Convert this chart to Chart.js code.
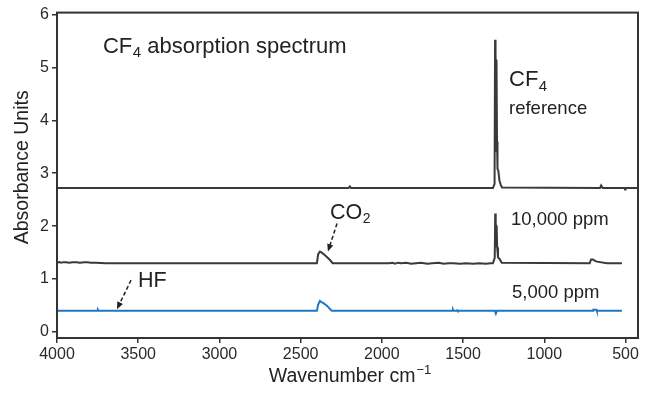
<!DOCTYPE html>
<html>
<head>
<meta charset="utf-8">
<script src="https://cdn.jsdelivr.net/npm/chart.js@4"></script>
<style>
  html, body { margin: 0; padding: 0; background: #fff; }
  #wrap { width: 651px; height: 397px; }
</style>
</head>
<body>
<div id="wrap"><canvas id="spec" width="651" height="397"></canvas></div>
<script>
// eixos
const wnTicks = [4000, 3500, 3000, 2500, 2000, 1500, 1000, 500];
const absTicks = [0, 1, 2, 3, 4, 5, 6];

// CF4 reference
const refWn  = [4000, 2205, 2197, 2190, 1316, 1306, 1303, 1300, 1297, 1294, 1291, 1288, 1283, 1276, 1268, 1260, 657, 650, 640, 506, 503, 500, 423];
const refAbs = [2.72, 2.72, 2.75, 2.72, 2.72, 2.80, 5.52, 3.40, 5.14, 5.12, 3.60, 3.08, 3.05, 2.86, 2.78, 2.73, 2.72, 2.77, 2.72, 2.72, 2.69, 2.72, 2.72];

// 10,000 ppm
const midWn  = [4000, 3985, 3975, 3960, 3945, 3925, 3905, 3880, 3860, 3830, 3815, 3790, 3760, 3700, 2400, 2392, 2381, 2370, 2350, 2319, 2303,
                1955, 1935, 1920, 1900, 1880, 1850, 1820, 1790, 1760, 1720, 1690, 1650, 1620, 1590, 1560, 1520, 1480, 1440, 1400, 1360, 1330,
                1316, 1305, 1302, 1299, 1296, 1293, 1290, 1285, 1275, 1262, 720, 712, 700, 690, 676, 614, 522];
const midAbs = [1.31, 1.32, 1.31, 1.32, 1.32, 1.31, 1.32, 1.32, 1.31, 1.32, 1.32, 1.31, 1.31, 1.30, 1.30, 1.47, 1.52, 1.50, 1.45, 1.36, 1.30,
                1.30, 1.31, 1.29, 1.31, 1.30, 1.31, 1.29, 1.30, 1.31, 1.29, 1.30, 1.31, 1.29, 1.30, 1.30, 1.29, 1.30, 1.29, 1.30, 1.29, 1.30,
                1.30, 1.40, 2.24, 1.60, 2.01, 1.98, 1.60, 1.41, 1.38, 1.31, 1.30, 1.37, 1.37, 1.35, 1.33, 1.30, 1.30];

// 5,000 ppm
const lowWn  = [4000, 3752, 3748, 3744, 2400, 2392, 2381, 2370, 2361, 2340, 2330, 2315, 2308, 1565, 1562, 1559, 1540, 1537, 1534, 1304, 1298, 1292, 700, 698, 678, 676, 522];
const lowAbs = [0.40, 0.40, 0.42, 0.40, 0.40, 0.52, 0.59, 0.56, 0.55, 0.50, 0.47, 0.42, 0.40, 0.40, 0.42, 0.40, 0.40, 0.41, 0.40, 0.40, 0.35, 0.40, 0.40, 0.42, 0.42, 0.40, 0.40];

const FONT = "'Liberation Sans', Arial, Helvetica, sans-serif";

// textos e setas (em coordenadas de dados)
const labels = [
  { text: 'CF', sub: '4', rest: ' absorption spectrum', wn: 3717, abs: 5.27, size: 22 },
  { text: 'CF', sub: '4', rest: '', wn: 1217, abs: 4.64, size: 22 },
  { text: 'reference', wn: 1217, abs: 4.12, size: 18.5 },
  { text: 'CO', sub: '2', rest: '', wn: 2319, abs: 2.14, size: 21.5 },
  { text: '10,000 ppm', wn: 1205, abs: 2.03, size: 18.5 },
  { text: 'HF', wn: 3501, abs: 0.85, size: 21.5 },
  { text: '5,000 ppm', wn: 1199, abs: 0.64, size: 18.5 }
];
const arrows = [
  { from: [2276, 2.05], to: [2332, 1.52] },
  { from: [3544, 0.98], to: [3631, 0.43] }
];

function pares(xs, ys) {
  return xs.map((v, i) => ({ x: v, y: ys[i] }));
}

const extras = {
  id: 'extras',
  afterDraw(chart) {
    const { ctx, chartArea: a, scales: { x, y } } = chart;
    ctx.save();
    // moldura
    ctx.strokeStyle = '#333';
    ctx.lineWidth = 2;
    ctx.strokeRect(a.left, a.top, a.right - a.left, a.bottom - a.top);

    ctx.fillStyle = '#222';
    ctx.textBaseline = 'alphabetic';
    ctx.textAlign = 'left';
    labels.forEach(l => {
      let px = x.getPixelForValue(l.wn);
      const py = y.getPixelForValue(l.abs);
      ctx.font = `${l.size}px ${FONT}`;
      ctx.fillText(l.text, px, py);
      px += ctx.measureText(l.text).width;
      if (l.sub) {
        const s = Math.round(l.size * 0.66);
        ctx.font = `${s}px ${FONT}`;
        ctx.fillText(l.sub, px + 0.5, py + l.size * 0.2);
        px += ctx.measureText(l.sub).width + 0.5;
        ctx.font = `${l.size}px ${FONT}`;
      }
      if (l.rest) ctx.fillText(l.rest, px, py);
    });

    // setas tracejadas
    ctx.strokeStyle = '#222';
    arrows.forEach(ar => {
      const x0 = x.getPixelForValue(ar.from[0]), y0 = y.getPixelForValue(ar.from[1]);
      const x1 = x.getPixelForValue(ar.to[0]), y1 = y.getPixelForValue(ar.to[1]);
      const ang = Math.atan2(y1 - y0, x1 - x0);
      ctx.lineWidth = 1.5;
      ctx.setLineDash([4, 2.5]);
      ctx.beginPath();
      ctx.moveTo(x0, y0);
      ctx.lineTo(x1 - 4 * Math.cos(ang), y1 - 4 * Math.sin(ang));
      ctx.stroke();
      ctx.setLineDash([]);
      ctx.beginPath();
      ctx.moveTo(x1, y1);
      ctx.lineTo(x1 - 8 * Math.cos(ang - 0.4), y1 - 8 * Math.sin(ang - 0.4));
      ctx.lineTo(x1 - 8 * Math.cos(ang + 0.4), y1 - 8 * Math.sin(ang + 0.4));
      ctx.closePath();
      ctx.fill();
    });

    // títulos dos eixos
    ctx.fillStyle = '#222';
    ctx.font = `19.5px ${FONT}`;
    ctx.save();
    ctx.translate(28, (a.top + a.bottom) / 2 - 8);
    ctx.rotate(-Math.PI / 2);
    ctx.textAlign = 'center';
    ctx.fillText('Absorbance Units', 0, 0);
    ctx.restore();

    const t1 = 'Wavenumber cm';
    const w1 = ctx.measureText(t1).width;
    ctx.font = `13px ${FONT}`;
    const w2 = ctx.measureText('\u22121').width;
    const cx = (a.left + a.right) / 2 + 2;
    const sx = cx - (w1 + w2) / 2;
    ctx.font = `19.5px ${FONT}`;
    ctx.fillText(t1, sx, 382);
    ctx.font = `13px ${FONT}`;
    ctx.fillText('\u22121', sx + w1 + 1, 374);
    ctx.restore();
  }
};

const ctx = document.getElementById('spec').getContext('2d');
new Chart(ctx, {
  type: 'scatter',
  data: {
    datasets: [
      { label: 'CF4 reference', data: pares(refWn, refAbs), borderColor: '#3a3a3a', borderWidth: 2 },
      { label: '10,000 ppm', data: pares(midWn, midAbs), borderColor: '#3a3a3a', borderWidth: 2 },
      { label: '5,000 ppm', data: pares(lowWn, lowAbs), borderColor: '#1f77c4', borderWidth: 2 }
    ].map(d => Object.assign(d, { showLine: true, pointRadius: 0, tension: 0, fill: false }))
  },
  options: {
    responsive: false,
    animation: false,
    layout: { padding: { top: 11, right: 13, left: 0, bottom: 0 } },
    plugins: { legend: { display: false }, tooltip: { enabled: false } },
    scales: {
      x: {
        type: 'linear',
        reverse: true,
        min: 423,
        max: 4000,
        afterBuildTicks: s => { s.ticks = wnTicks.map(v => ({ value: v })); },
        afterFit: s => { s.height = 59; },
        grid: { drawOnChartArea: false, drawTicks: true, tickLength: 5, color: '#333', lineWidth: 1.5 },
        border: { display: false },
        ticks: { font: { family: FONT, size: 16 }, color: '#2a2a2a', padding: 2, maxRotation: 0, autoSkip: false, callback: v => String(v) }
      },
      y: {
        min: -0.113,
        max: 6.034,
        afterBuildTicks: s => { s.ticks = absTicks.map(v => ({ value: v })); },
        afterFit: s => { s.width = 57; },
        grid: { drawOnChartArea: false, drawTicks: true, tickLength: 5, color: '#333', lineWidth: 1.5 },
        border: { display: false },
        ticks: { font: { family: FONT, size: 16 }, color: '#2a2a2a', padding: 3, callback: v => String(v) }
      }
    }
  },
  plugins: [extras]
});
</script>
</body>
</html>
